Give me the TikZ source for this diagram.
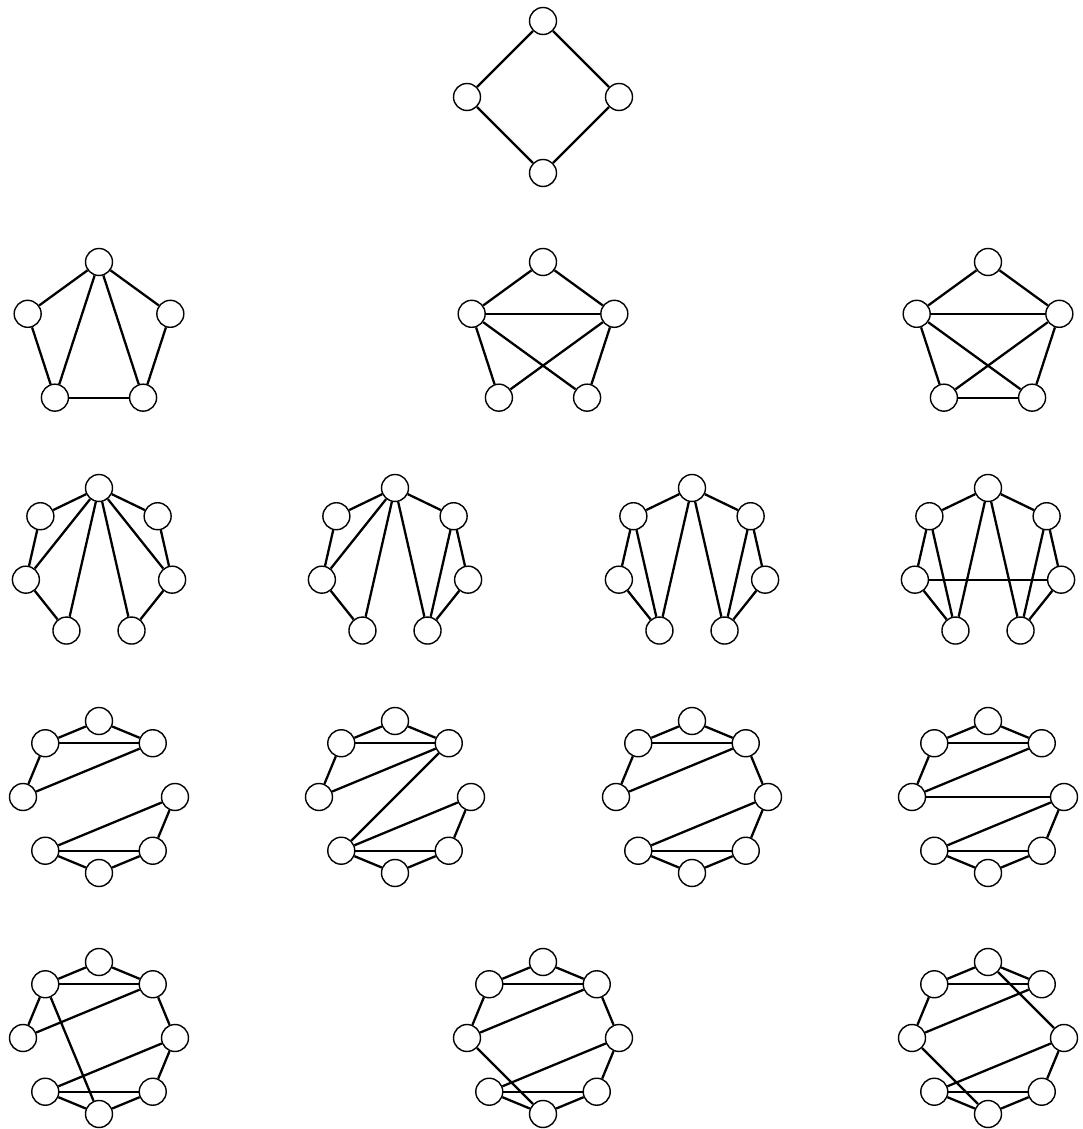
\documentclass[tikz,border=0pt]{standalone}
\usepackage{tikz}
\tikzset{
vertex/.style={circle, draw=black, fill=white, line width=0.4pt, minimum size=0.27cm, inner sep=0pt},
edge/.style={line width=0.65pt, draw=black}
}

\begin{document}
\begin{tikzpicture}
\useasboundingbox (0,0) rectangle (10.82,11.29);
% square
\foreach \i in {0,...,3} \node[vertex] (sq\i) at ([shift={(5.43,10.32)}]90-90*\i:0.76) {};
% pentagons
\foreach \i in {0,...,4} {
\node[vertex] (pa\i) at ([shift={(0.99,7.92)}]90-72*\i:0.75) {};
\node[vertex] (pb\i) at ([shift={(5.43,7.92)}]90-72*\i:0.75) {};
\node[vertex] (pc\i) at ([shift={(9.88,7.92)}]90-72*\i:0.75) {};
}
% heptagons
\foreach \i in {0,...,6} {
\node[vertex] (ha\i) at ([shift={(0.99,5.66)}]90-360/7*\i:0.75) {};
\node[vertex] (hb\i) at ([shift={(3.95,5.66)}]90-360/7*\i:0.75) {};
\node[vertex] (hc\i) at ([shift={(6.92,5.66)}]90-360/7*\i:0.75) {};
\node[vertex] (hd\i) at ([shift={(9.88,5.66)}]90-360/7*\i:0.75) {};
}
% octagons
\foreach \i in {0,...,7} {
\node[vertex] (oa\i) at ([shift={(0.99,3.32)}]90-45*\i:0.76) {};
\node[vertex] (ob\i) at ([shift={(3.95,3.32)}]90-45*\i:0.76) {};
\node[vertex] (oc\i) at ([shift={(6.92,3.32)}]90-45*\i:0.76) {};
\node[vertex] (od\i) at ([shift={(9.88,3.32)}]90-45*\i:0.76) {};
\node[vertex] (oe\i) at ([shift={(0.99,0.91)}]90-45*\i:0.76) {};
\node[vertex] (of\i) at ([shift={(5.43,0.91)}]90-45*\i:0.76) {};
\node[vertex] (og\i) at ([shift={(9.88,0.91)}]90-45*\i:0.76) {};
}
\foreach \u/\v in {0/1,1/2,2/3,3/0} \draw[edge] (sq\u) -- (sq\v);
\foreach \u/\v in {0/4,0/1,0/3,0/2,4/3,1/2,3/2} \draw[edge] (pa\u) -- (pa\v);
\foreach \u/\v in {0/4,0/1,4/1,4/3,4/2,1/3,1/2} \draw[edge] (pb\u) -- (pb\v);
\foreach \u/\v in {0/4,0/1,4/1,4/3,4/2,1/3,1/2,3/2} \draw[edge] (pc\u) -- (pc\v);
\foreach \u/\v in {0/1,1/2,2/3,4/5,5/6,6/0,0/2,0/3,0/4,0/5} \draw[edge] (ha\u) -- (ha\v);
\foreach \u/\v in {0/6,0/5,0/4,0/3,0/1,6/5,5/4,1/3,1/2,2/3} \draw[edge] (hb\u) -- (hb\v);
\foreach \u/\v in {0/6,0/4,0/3,0/1,6/5,6/4,5/4,1/2,1/3,2/3} \draw[edge] (hc\u) -- (hc\v);
\foreach \u/\v in {0/6,0/4,0/3,0/1,6/5,6/4,5/4,1/2,1/3,2/3,5/2} \draw[edge] (hd\u) -- (hd\v);
\foreach \u/\v in {7/0,0/1,7/1,7/6,6/1,2/5,2/3,5/3,5/4,4/3} \draw[edge] (oa\u) -- (oa\v);
\foreach \u/\v in {7/0,0/1,7/1,7/6,6/1,2/5,2/3,5/3,5/4,4/3,1/5} \draw[edge] (ob\u) -- (ob\v);
\foreach \u/\v in {7/0,0/1,7/1,7/6,6/1,2/5,2/3,5/3,5/4,4/3,1/2} \draw[edge] (oc\u) -- (oc\v);
\foreach \u/\v in {7/0,0/1,7/1,7/6,6/1,2/5,2/3,5/3,5/4,4/3,6/2} \draw[edge] (od\u) -- (od\v);
\foreach \u/\v in {7/0,0/1,7/1,7/6,6/1,2/5,2/3,5/3,5/4,4/3,1/2,7/4} \draw[edge] (oe\u) -- (oe\v);
\foreach \u/\v in {7/0,0/1,7/1,7/6,6/1,2/5,2/3,5/3,5/4,4/3,1/2,6/4} \draw[edge] (of\u) -- (of\v);
\foreach \u/\v in {7/0,0/1,7/1,7/6,6/1,2/5,2/3,5/3,5/4,4/3,0/2,6/4} \draw[edge] (og\u) -- (og\v);
\end{tikzpicture}
\end{document}
